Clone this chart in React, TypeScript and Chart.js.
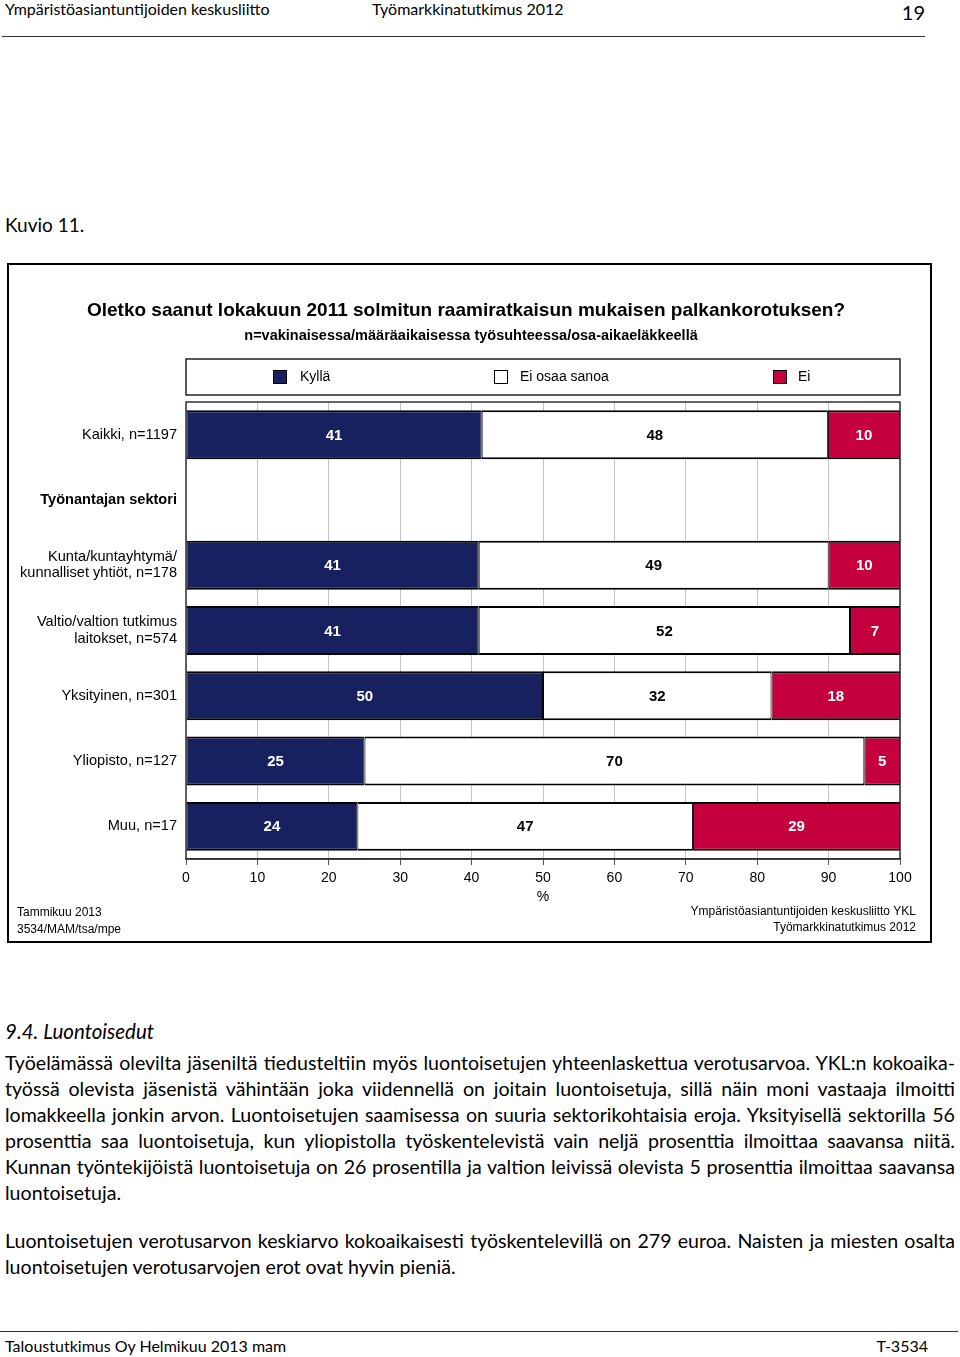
import React, { useEffect, useRef } from 'react';
import { Chart, registerables } from 'chart.js';

Chart.register(...registerables);

// ---------- data ----------
const categories: (string | string[])[] = [
  'Kaikki, n=1197',
  'Työnantajan sektori',
  ['Kunta/kuntayhtymä/', 'kunnalliset yhtiöt, n=178'],
  ['Valtio/valtion tutkimus', 'laitokset, n=574'],
  'Yksityinen, n=301',
  'Yliopisto, n=127',
  'Muu, n=17',
];
const seriesNames = ['Kyllä', 'Ei osaa sanoa', 'Ei'];
const kylla: (number | null)[] = [41, null, 41, 41, 50, 25, 24];
const eiOsaaSanoa: (number | null)[] = [48, null, 49, 52, 32, 70, 47];
const ei: (number | null)[] = [10, null, 10, 7, 18, 5, 29];
const xMin = 0;
const xMax = 100;
const xStep = 10;

const chartTitle = 'Oletko saanut lokakuun 2011 solmitun raamiratkaisun mukaisen palkankorotuksen?';
const chartSubtitle = 'n=vakinaisessa/määräaikaisessa työsuhteessa/osa-aikaeläkkeellä';
const footLeft = ['Tammikuu 2013', '3534/MAM/tsa/mpe'];
const footRight = ['Ympäristöasiantuntijoiden keskusliitto YKL', 'Työmarkkinatutkimus 2012'];

const NAVY = '#17215f';
const CRIMSON = '#c4003f';
const seriesColors = [NAVY, '#ffffff', CRIMSON];
const labelColors = ['#ffffff', '#000000', '#ffffff'];
const rawSeries = [kylla, eiOsaaSanoa, ei];

const totals = categories.map((_, j) =>
  rawSeries.reduce((s, arr) => s + (arr[j] ?? 0), 0)
);
const shareOf = (arr: (number | null)[]) =>
  arr.map((v, j) => (v == null || !totals[j] ? null : (v / totals[j]) * 100));

const FONT = '"Liberation Sans", Arial, sans-serif';
const NARROW = '"Liberation Sans Narrow", "Arial Narrow", "Liberation Sans", Arial, sans-serif';

const decor = {
  id: 'decor',
  afterDatasetsDraw(chart: any) {
    const ctx = chart.ctx;
    const a = chart.chartArea;
    ctx.save();
    // plot border
    ctx.strokeStyle = '#333';
    ctx.lineWidth = 1.5;
    ctx.strokeRect(a.left, a.top, a.right - a.left, a.bottom - a.top);
    // value labels
    ctx.font = `bold 15px ${NARROW}`;
    ctx.textAlign = 'center';
    ctx.textBaseline = 'middle';
    rawSeries.forEach((arr, i) => {
      const meta = chart.getDatasetMeta(i);
      meta.data.forEach((bar: any, j: number) => {
        const v = arr[j];
        if (v == null) return;
        const p = bar.getProps(['x', 'y', 'base'], true);
        ctx.fillStyle = labelColors[i];
        ctx.fillText(String(v), (p.x + p.base) / 2, p.y + 1);
      });
    });
    ctx.restore();
  },
  afterDraw(chart: any) {
    const ctx = chart.ctx;
    const a = chart.chartArea;
    ctx.save();
    ctx.fillStyle = '#000';
    ctx.textBaseline = 'middle';
    // title
    ctx.textAlign = 'center';
    ctx.font = `bold 19px ${FONT}`;
    ctx.fillText(chartTitle, 457, 46);
    ctx.font = `bold 14.5px ${FONT}`;
    ctx.fillText(chartSubtitle, 462, 71);
    // legend box
    ctx.strokeStyle = '#222';
    ctx.lineWidth = 1.5;
    ctx.strokeRect(a.left, 94, a.right - a.left, 36);
    const sqX = [264, 485, 764];
    const txX = [291, 511, 789];
    ctx.font = `14px ${FONT}`;
    ctx.textAlign = 'left';
    seriesNames.forEach((n, i) => {
      ctx.fillStyle = seriesColors[i];
      ctx.fillRect(sqX[i], 105, 14, 14);
      ctx.strokeStyle = '#000';
      ctx.lineWidth = 1;
      ctx.strokeRect(sqX[i] + 0.5, 105.5, 13, 13);
      ctx.fillStyle = '#000';
      ctx.fillText(n, txX[i], 112);
    });
    // footers
    ctx.font = `12px ${FONT}`;
    ctx.textAlign = 'left';
    ctx.fillText(footLeft[0], 8, 648);
    ctx.fillText(footLeft[1], 8, 665);
    ctx.textAlign = 'right';
    ctx.font = `12px ${FONT}`;
    ctx.fillText(footRight[0], 907, 647);
    ctx.fillText(footRight[1], 907, 663);
    ctx.restore();
  },
};

function ChartBox() {
  const ref = useRef<HTMLCanvasElement | null>(null);
  useEffect(() => {
    if (!ref.current) return;
    const chart = new Chart(ref.current, {
      type: 'bar',
      data: {
        labels: categories as any,
        datasets: rawSeries.map((arr, i) => ({
          label: seriesNames[i],
          data: shareOf(arr) as any,
          backgroundColor: seriesColors[i],
          borderColor: '#000',
          borderWidth: { top: 2, bottom: 2, left: 1, right: 1 },
          borderSkipped: false,
          barPercentage: 0.75,
          categoryPercentage: 1,
        })),
      },
      options: {
        indexAxis: 'y',
        responsive: false,
        animation: false,
        devicePixelRatio: 1,
        layout: { padding: { top: 137, bottom: 35, left: 0, right: 30 } },
        plugins: {
          legend: { display: false },
          title: { display: false },
          tooltip: { enabled: false },
        },
        scales: {
          x: {
            stacked: true,
            min: xMin,
            max: xMax,
            ticks: {
              stepSize: xStep,
              color: '#000',
              font: { family: FONT, size: 14 },
              padding: 5,
              maxRotation: 0,
            },
            grid: {
              color: '#c4c4c4',
              lineWidth: 1,
              tickColor: '#555',
              tickLength: 6,
            },
            border: { display: true, color: '#222', width: 1.5 },
            title: {
              display: true,
              text: '%',
              color: '#000',
              font: { family: FONT, size: 14 },
              padding: { top: 0, bottom: 0 },
            },
            afterFit: (s: any) => {
              s.height = 47;
            },
          },
          y: {
            stacked: true,
            grid: { display: false, drawTicks: false },
            border: { display: false },
            ticks: {
              autoSkip: false,
              color: '#000',
              padding: 9,
              font: (c: any) => ({
                family: FONT,
                size: 14.6,
                lineHeight: 1.12,
                weight: c.index === 1 ? 'bold' : 'normal',
              }),
            },
            afterFit: (s: any) => {
              s.width = 177;
            },
          },
        },
      },
      plugins: [decor],
    });
    return () => chart.destroy();
  }, []);
  return (
    <div
      style={{
        position: 'absolute',
        left: 7,
        top: 263,
        width: 925,
        height: 680,
        border: '2px solid #000',
        boxSizing: 'border-box',
        background: '#fff',
      }}
    >
      <canvas
        ref={ref}
        width={921}
        height={676}
        style={{ position: 'absolute', left: 0, top: 0, width: 921, height: 676 }}
      />
    </div>
  );
}

const PAGE_FONT = 'Lato, "Open Sans", sans-serif';

function Line({ top, text, justify = true }: { top: number; text: string; justify?: boolean }) {
  return (
    <div
      style={{
        position: 'absolute',
        left: 5,
        width: 950,
        top: top - 13,
        height: 26,
        lineHeight: '26px',
        fontSize: 19.6,
        fontFamily: PAGE_FONT,
        textAlign: justify ? 'justify' : 'left',
        textAlignLast: justify ? 'justify' : 'left',
        color: '#000',
      }}
    >
      {text}
    </div>
  );
}

const para1 = [
  'Työelämässä olevilta jäseniltä tiedusteltiin myös luontoisetujen yhteenlaskettua verotusarvoa. YKL:n kokoaika-',
  'työssä olevista jäsenistä vähintään joka viidennellä on joitain luontoisetuja, sillä näin moni vastaaja ilmoitti',
  'lomakkeella jonkin arvon. Luontoisetujen saamisessa on suuria sektorikohtaisia eroja. Yksityisellä sektorilla 56',
  'prosenttia saa luontoisetuja, kun yliopistolla työskentelevistä vain neljä prosenttia ilmoittaa saavansa niitä.',
  'Kunnan työntekijöistä luontoisetuja on 26 prosentilla ja valtion leivissä olevista 5 prosenttia ilmoittaa saavansa',
  'luontoisetuja.',
];
const para2 = [
  'Luontoisetujen verotusarvon keskiarvo kokoaikaisesti työskentelevillä on 279 euroa. Naisten ja miesten osalta',
  'luontoisetujen verotusarvojen erot ovat hyvin pieniä.',
];

export default function App() {
  const txt = (s: React.CSSProperties): React.CSSProperties => ({
    position: 'absolute',
    fontFamily: PAGE_FONT,
    color: '#000',
    whiteSpace: 'nowrap',
    ...s,
  });
  return (
    <div style={{ position: 'absolute', left: 0, top: 0, width: 960, height: 1357, background: '#fff' }}>
      <div style={txt({ left: 5, top: -1, fontSize: 16, lineHeight: '20px' })}>Ympäristöasiantuntijoiden keskusliitto</div>
      <div style={txt({ left: 372, top: -1, fontSize: 16, lineHeight: '20px' })}>Työmarkkinatutkimus 2012</div>
      <div style={txt({ right: 35, top: 1, fontSize: 20, lineHeight: '22px' })}>19</div>
      <div style={{ position: 'absolute', left: 2, top: 36, width: 923, height: 0, borderTop: '1px solid #333' }} />

      <div style={txt({ left: 5, top: 213, fontSize: 19, lineHeight: '24px' })}>Kuvio 11.</div>

      <ChartBox />

      <div style={txt({ left: 5, top: 1019, fontSize: 20.5, lineHeight: '24px', fontStyle: 'italic' })}>9.4. Luontoisedut</div>
      {para1.map((t, i) => (
        <Line key={'a' + i} top={1063 + 26 * i} text={t} justify={i < para1.length - 1} />
      ))}
      {para2.map((t, i) => (
        <Line key={'b' + i} top={1241 + 26 * i} text={t} justify={i < para2.length - 1} />
      ))}

      <div style={{ position: 'absolute', left: 0, top: 1331, width: 958, height: 0, borderTop: '1px solid #333' }} />
      <div style={txt({ left: 5, top: 1336, fontSize: 16, lineHeight: '20px' })}>Taloustutkimus Oy Helmikuu 2013 mam</div>
      <div style={txt({ right: 32, top: 1336, fontSize: 16, lineHeight: '20px' })}>T-3534</div>
    </div>
  );
}
